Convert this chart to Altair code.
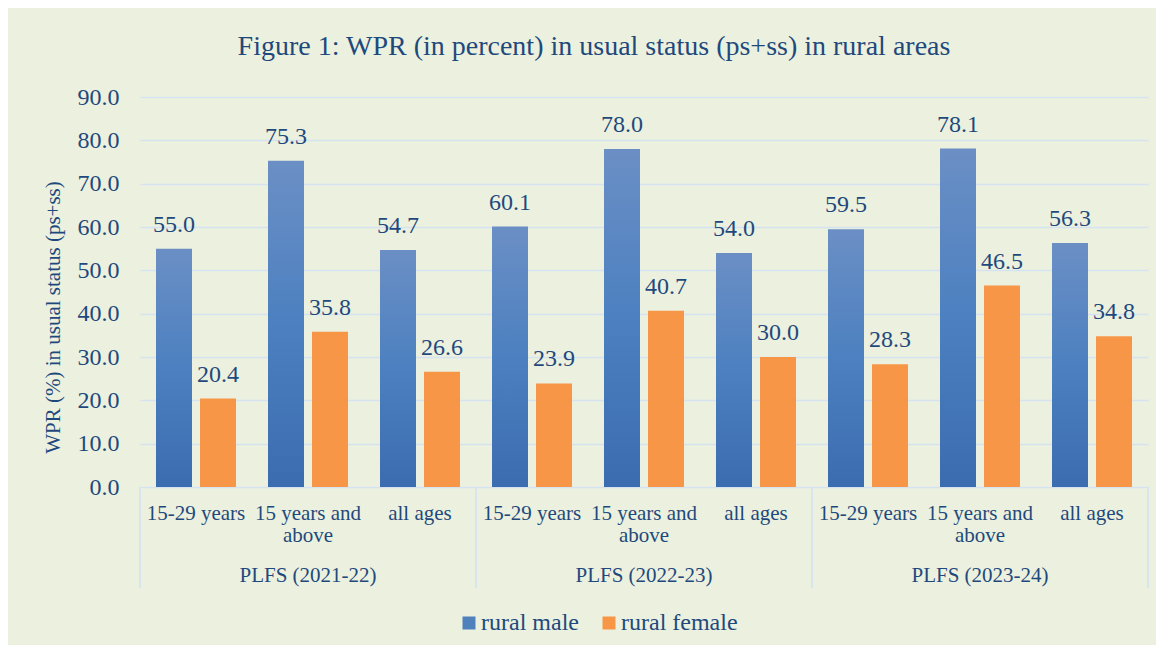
import altair as alt
import pandas as pd

groups = ["PLFS (2021-22)", "PLFS (2022-23)", "PLFS (2023-24)"]
categories = ["15-29 years", "15 years and above", "all ages"]
cat_labels = ["15-29 years", "15 years and\nabove", "all ages"]
series = ["rural male", "rural female"]
male = [55.0, 75.3, 54.7, 60.1, 78.0, 54.0, 59.5, 78.1, 56.3]
female = [20.4, 35.8, 26.6, 23.9, 40.7, 30.0, 28.3, 46.5, 34.8]
y_ticks = [0, 10, 20, 30, 40, 50, 60, 70, 80, 90]

TEXT = "#1F497D"
GRID = "#D5E2F1"
BG = "#EBF1DE"
FONT = "Liberation Serif"

keys = [f"{g}|{c}" for g in groups for c in categories]

rows = []
for i, k in enumerate(keys):
    rows.append({"key": k, "series": series[0], "value": male[i]})
    rows.append({"key": k, "series": series[1], "value": female[i]})
df = pd.DataFrame(rows)

cat_df = pd.DataFrame({"key": keys, "label": cat_labels * len(groups)})
grp_df = pd.DataFrame({"key": [f"{g}|{categories[1]}" for g in groups], "label": groups})
sep_left = pd.DataFrame({"key": [f"{g}|{categories[0]}" for g in groups]})
sep_right = pd.DataFrame({"key": [keys[-1]]})

H = 390

x_enc = alt.X("key:N", sort=keys, scale=alt.Scale(paddingInner=0, paddingOuter=0), axis=None)
xo_enc = alt.XOffset("series:N", sort=series,
                     scale=alt.Scale(domain=series, paddingInner=0.1818, paddingOuter=0.3636))
y_enc = alt.Y("value:Q", scale=alt.Scale(domain=[0, 90], nice=False),
              axis=alt.Axis(values=y_ticks, format=".1f", title="WPR (%) in usual status (ps+ss)",
                            domain=False, ticks=False, labelPadding=21,
                            labelFontSize=24, labelColor=TEXT, labelFont=FONT,
                            titleFontSize=21, titleColor=TEXT, titleFont=FONT,
                            titleFontWeight="normal", titlePadding=14, titleY=220,
                            grid=True, gridColor=GRID, gridWidth=1.6))

blue_grad = alt.Gradient(
    gradient="linear", x1=0, y1=0, x2=0, y2=1,
    stops=[alt.GradientStop(offset=0, color="#6B8FC5"),
           alt.GradientStop(offset=0.5, color="#4C80C0"),
           alt.GradientStop(offset=1, color="#3B6CB0")],
)

base = alt.Chart(df)

bars_m = base.transform_filter(alt.datum.series == series[0]).mark_bar(color=blue_grad).encode(
    x=x_enc, xOffset=xo_enc, y=y_enc,
)
bars_f = base.transform_filter(alt.datum.series == series[1]).mark_bar(color="#F79646").encode(
    x=x_enc, xOffset=xo_enc, y=alt.Y("value:Q"),
)

legend_carrier = base.mark_bar().encode(
    x=x_enc, xOffset=xo_enc, y=alt.datum(0),
    color=alt.Color("series:N", sort=series,
                    scale=alt.Scale(domain=series, range=["#4F81BD", "#F79646"]),
                    legend=alt.Legend(title=None, orient="none", direction="horizontal",
                                      legendX=317, legendY=514, symbolType="square",
                                      symbolSize=169, symbolStrokeWidth=0,
                                      labelFont=FONT, labelFontSize=24, labelColor=TEXT,
                                      labelOffset=0, columnPadding=18, padding=0)),
)

labels = base.mark_text(font=FONT, fontSize=24, color=TEXT, baseline="alphabetic", dy=-17).encode(
    x=x_enc, xOffset=xo_enc, y=alt.Y("value:Q"),
    text=alt.Text("value:Q", format=".1f"),
)

cat_text = alt.Chart(cat_df).mark_text(font=FONT, fontSize=21, color=TEXT, baseline="alphabetic",
                                        lineBreak="\n", lineHeight=22).encode(
    x=alt.X("key:N", sort=keys), y=alt.value(H + 33), text="label:N",
)

grp_text = alt.Chart(grp_df).mark_text(font=FONT, fontSize=21, color=TEXT, baseline="alphabetic").encode(
    x=alt.X("key:N", sort=keys), y=alt.value(H + 95), text="label:N",
)

sep1 = alt.Chart(sep_left).mark_rule(color=GRID, strokeWidth=1.6).encode(
    x=alt.X("key:N", sort=keys, bandPosition=0), y=alt.value(H), y2=alt.value(H + 101),
)
sep2 = alt.Chart(sep_right).mark_rule(color=GRID, strokeWidth=1.6).encode(
    x=alt.X("key:N", sort=keys, bandPosition=1), y=alt.value(H), y2=alt.value(H + 101),
)

chart = alt.layer(bars_m, bars_f, legend_carrier, labels, cat_text, grp_text, sep1, sep2).properties(
    width=1008, height=H,
    autosize=alt.AutoSizeParams(type="none"),
    padding={"left": 132, "top": 89, "right": 8, "bottom": 158},
    background=BG,
    title=alt.TitleParams("Figure 1: WPR (in percent) in usual status (ps+ss) in rural areas",
                          font=FONT, fontSize=28, fontWeight="normal", color=TEXT,
                          anchor="middle", dx=-50, offset=24),
).configure(font=FONT).configure_view(strokeWidth=0)

chart.save("out.html", embed_options={"renderer": "svg", "actions": False})
